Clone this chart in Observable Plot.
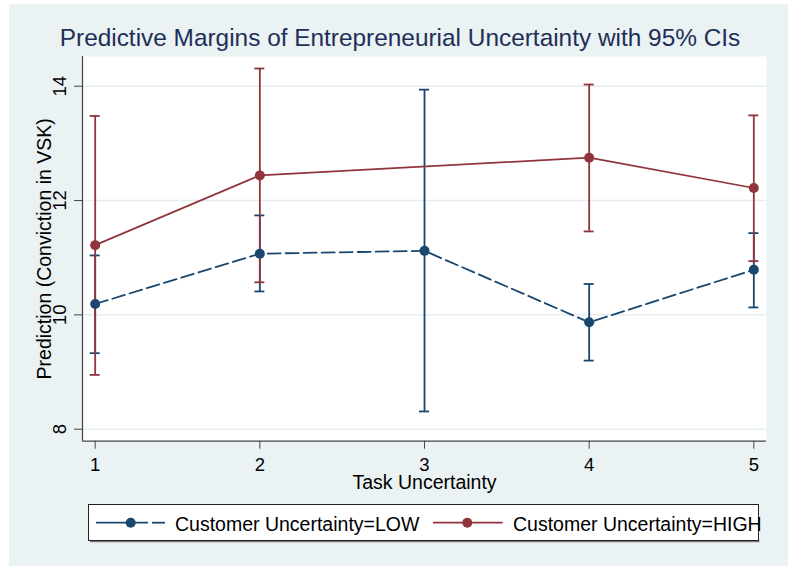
<!DOCTYPE html>
<html><head><meta charset="utf-8">
<script src="https://cdn.jsdelivr.net/npm/d3@7"></script>
<script src="https://cdn.jsdelivr.net/npm/@observablehq/plot@0.6"></script>
<style>
html,body{margin:0;padding:0;background:#fff;}
#wrap{position:relative;width:788px;height:566px;overflow:hidden;font-family:"Liberation Sans",Arial,sans-serif;}
#bg{position:absolute;left:9px;top:4px;width:779px;height:562px;background:#eaf2f3;}
#title{position:relative;height:52px;box-sizing:border-box;padding-top:26px;line-height:24px;font-size:24.4px;color:#1f2f57;text-align:center;margin-left:12px;width:776px;white-space:nowrap;}
#chart,#legend{position:relative;}
svg{display:block;}
</style></head><body>
<div id="wrap"><div id="bg"></div>
<div id="title">Predictive Margins of Entrepreneurial Uncertainty with 95% CIs</div>
<div id="chart"></div><div id="legend"></div></div>
<script>
// ---- data ----
const taskLevels = [1, 2, 3, 4, 5];
const lowMargin = [10.19, 11.07, 11.12, 9.87, 10.79];
const lowCILo   = [9.33, 10.41, 8.31, 9.20, 10.13];
const lowCIHi   = [11.04, 11.74, 13.94, 10.54, 11.43];
const highLevels = [1, 2, 4, 5];
const highMargin = [11.22, 12.44, 12.75, 12.22];
const highCILo   = [8.95, 10.57, 11.46, 10.94];
const highCIHi   = [13.48, 14.31, 14.03, 13.49];
const xTicks = [1, 2, 3, 4, 5];
const yTicks = [8, 10, 12, 14];
const seriesNames = ["Customer Uncertainty=LOW", "Customer Uncertainty=HIGH"];
const xTitle = "Task Uncertainty";
const yTitle = "Prediction (Conviction in VSK)";

const navy = "#1a476f", maroon = "#90353b";
const low = taskLevels.map((x, i) => ({x, m: lowMargin[i], lo: lowCILo[i], hi: lowCIHi[i]}));
const high = highLevels.map((x, i) => ({x, m: highMargin[i], lo: highCILo[i], hi: highCIHi[i]}));
const xDomain = [0.923, 5.077], yDomain = [7.79, 14.52];
const axisCol = "#444";

function ci(data, color) {
  return [
    Plot.ruleX(data, {x: "x", y1: "lo", y2: "hi", stroke: color, strokeWidth: 1.8}),
    Plot.ruleY(data, {x1: "x", x2: "x", y: "lo", insetLeft: -5, insetRight: -5, stroke: color, strokeWidth: 1.8}),
    Plot.ruleY(data, {x1: "x", x2: "x", y: "hi", insetLeft: -5, insetRight: -5, stroke: color, strokeWidth: 1.8})
  ];
}

const chart = Plot.plot({
  width: 788, height: 448,
  marginLeft: 82, marginRight: 22, marginTop: 4, marginBottom: 59.3,
  style: {background: "transparent", fontFamily: "Liberation Sans, Arial, sans-serif", color: "#000", overflow: "visible"},
  x: {domain: xDomain},
  y: {domain: yDomain},
  marks: [
    Plot.frame({fill: "white", stroke: null}),
    Plot.ruleY(yTicks, {y: d => d, stroke: "#e4edf0", strokeWidth: 1.5}),
    Plot.ruleX([xDomain[0]], {x: d => d, stroke: axisCol, strokeWidth: 1.2}),
    Plot.ruleY([yDomain[0]], {y: d => d, stroke: axisCol, strokeWidth: 1.2}),
    Plot.axisY({ticks: yTicks, tickSize: 8, tickFormat: () => "", label: null, stroke: axisCol}),
    Plot.axisX({ticks: xTicks, tickSize: 8, tickFormat: () => "", label: null, stroke: axisCol}),
    Plot.text(yTicks, {y: d => d, text: d => String(d), frameAnchor: "left", rotate: -90, dx: -17, lineAnchor: "bottom", textAnchor: "middle", fontSize: 18.5, fill: "#000"}),
    Plot.text(xTicks, {x: d => d, text: d => String(d), frameAnchor: "bottom", dy: 30, lineAnchor: "bottom", textAnchor: "middle", fontSize: 18.5, fill: "#000"}),
    Plot.text([yTitle], {text: d => d, frameAnchor: "left", rotate: -90, dx: -31.5, lineAnchor: "bottom", textAnchor: "middle", fontSize: 19.5, fill: "#000"}),
    Plot.text([xTitle], {text: d => d, frameAnchor: "bottom", dy: 47.5, lineAnchor: "bottom", textAnchor: "middle", fontSize: 19.5, fill: "#000"}),
    ...ci(low, navy),
    ...ci(high, maroon),
    Plot.line(low, {x: "x", y: "m", stroke: navy, strokeWidth: 1.8, strokeDasharray: "13,5"}),
    Plot.line(high, {x: "x", y: "m", stroke: maroon, strokeWidth: 1.7}),
    Plot.dot(low, {x: "x", y: "m", r: 5, fill: navy, stroke: null}),
    Plot.dot(high, {x: "x", y: "m", r: 5, fill: maroon, stroke: null})
  ]
});
document.getElementById("chart").append(chart);

// ---- legend ----
const lg = d3.create("svg").attr("width", 788).attr("height", 66)
  .style("font-family", "Liberation Sans, Arial, sans-serif");
lg.append("line").attr("x1", 90).attr("x2", 759.5).attr("y1", 41.5).attr("y2", 41.5).attr("stroke", "#777").attr("stroke-width", 1.5);
lg.append("rect").attr("x", 88.5).attr("y", 4.5).attr("width", 670).attr("height", 36)
  .attr("fill", "white").attr("stroke", "#222").attr("stroke-width", 1);
// LOW symbol
lg.append("line").attr("x1", 96).attr("x2", 148).attr("y1", 22.7).attr("y2", 22.7).attr("stroke", navy).attr("stroke-width", 1.8);
lg.append("line").attr("x1", 152).attr("x2", 165).attr("y1", 22.7).attr("y2", 22.7).attr("stroke", navy).attr("stroke-width", 1.8);
lg.append("circle").attr("cx", 130.7).attr("cy", 22.7).attr("r", 5).attr("fill", navy);
lg.append("text").attr("x", 175).attr("y", 30.7).attr("font-size", 19.5).attr("fill", "#000").text(seriesNames[0]);
// HIGH symbol
lg.append("line").attr("x1", 433).attr("x2", 502.7).attr("y1", 22.7).attr("y2", 22.7).attr("stroke", maroon).attr("stroke-width", 1.8);
lg.append("circle").attr("cx", 467.3).attr("cy", 22.7).attr("r", 5).attr("fill", maroon);
lg.append("text").attr("x", 513).attr("y", 30.7).attr("font-size", 19.5).attr("fill", "#000").text(seriesNames[1]);
document.getElementById("legend").append(lg.node());
</script>
</body></html>
